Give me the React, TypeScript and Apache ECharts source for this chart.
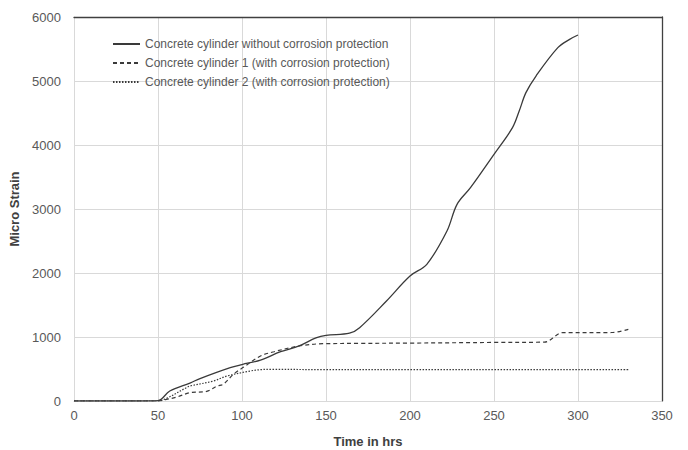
import React, { useEffect, useRef } from "react";
import * as echarts from "echarts";

const seriesNames = [
  "Concrete cylinder without corrosion protection",
  "Concrete cylinder 1 (with corrosion protection)",
  "Concrete cylinder 2 (with corrosion protection)",
];

const noProtection: [number, number][] = [
  [0, 0], [10, 0], [20, 0], [30, 0], [40, 0], [50, 5], [57, 156], [69, 280], [75, 350],
  [93, 521], [100, 570], [111, 640], [123, 770], [134, 860], [144, 985], [150, 1026],
  [164, 1060], [170, 1146], [186, 1563], [200, 1953], [210, 2136], [222, 2656], [228, 3073],
  [236, 3333], [250, 3854], [261, 4271], [265, 4531], [269, 4818], [275, 5078], [288, 5521],
  [295, 5651], [300, 5719],
];

const protected1: [number, number][] = [
  [0, 0], [10, 0], [20, 0], [30, 0], [40, 0], [50, 0], [55, 26], [61, 60], [69, 130],
  [79, 150], [85, 230], [89, 265], [95, 420], [101, 530], [111, 703], [119, 770],
  [134, 859], [148, 895], [170, 900], [200, 905], [250, 915], [280, 920], [291, 1068],
  [320, 1070], [330, 1120],
];

const protected2: [number, number][] = [
  [0, 0], [10, 0], [20, 0], [30, 0], [40, 0], [50, 0], [55, 40], [67, 210], [69, 234],
  [83, 312], [91, 390], [105, 469], [111, 490], [117, 495], [150, 490], [200, 490],
  [250, 490], [300, 490], [330, 490],
];

const xTicks = { min: 0, max: 350, interval: 50 };
const yTicks = { min: 0, max: 6000, interval: 1000 };

const FONT = "Liberation Sans, Arial, sans-serif";

export default function App() {
  const ref = useRef<HTMLDivElement>(null);
  useEffect(() => {
    if (!ref.current) return;
    const chart = echarts.init(ref.current, undefined, { renderer: "svg" });
    const lineColor = "#3a3a3a";
    chart.setOption({
      animation: false,
      backgroundColor: "#ffffff",
      grid: { left: 74, right: 26, top: 17, bottom: 49, show: false, containLabel: false, outerBoundsMode: "none" },
      legend: {
        orient: "vertical",
        left: 107,
        top: 33,
        itemGap: 7,
        itemWidth: 27,
        itemHeight: 12,
        itemStyle: { opacity: 0 },
        textStyle: { color: "#595959", fontSize: 12, fontFamily: FONT },
        data: seriesNames,
      },
      xAxis: [
        {
          type: "value",
          ...xTicks,
          name: "Time in hrs",
          nameLocation: "middle",
          nameGap: 34,
          nameTextStyle: { fontWeight: "bold", fontSize: 13, color: "#404040", fontFamily: FONT },
          axisLine: { show: true, lineStyle: { color: "#d9d9d9" } },
          axisTick: { show: false },
          axisLabel: { color: "#595959", fontSize: 13, margin: 8, fontFamily: FONT },
          splitLine: { show: true, lineStyle: { color: "#d9d9d9" } },
        },
        {
          type: "value",
          ...xTicks,
          position: "top",
          axisLine: { show: true, onZero: false, lineStyle: { color: "#404040", width: 1.3 } },
          axisTick: { show: false },
          axisLabel: { show: false },
          splitLine: { show: false },
        },
      ],
      yAxis: [
        {
          type: "value",
          ...yTicks,
          name: "Micro Strain",
          nameLocation: "middle",
          nameGap: 42,
          nameTextStyle: { fontWeight: "bold", fontSize: 13, color: "#404040", fontFamily: FONT },
          axisLine: { show: true, lineStyle: { color: "#d9d9d9" } },
          axisTick: { show: false },
          axisLabel: { color: "#595959", fontSize: 13, margin: 13, fontFamily: FONT, formatter: (v: number) => String(v) },
          splitLine: { show: true, lineStyle: { color: "#d9d9d9" } },
        },
        {
          type: "value",
          ...yTicks,
          position: "right",
          axisLine: { show: true, onZero: false, lineStyle: { color: "#404040", width: 1.3 } },
          axisTick: { show: false },
          axisLabel: { show: false },
          splitLine: { show: false },
        },
      ],
      series: [
        {
          name: seriesNames[0],
          type: "line",
          data: noProtection,
          smooth: 0.35,
          showSymbol: false,
          symbol: "none",
          itemStyle: { color: lineColor },
          lineStyle: { color: lineColor, width: 1.3, type: "solid" },
        },
        {
          name: seriesNames[1],
          type: "line",
          data: protected1,
          smooth: 0.35,
          showSymbol: false,
          symbol: "none",
          itemStyle: { color: lineColor },
          lineStyle: { color: lineColor, width: 1.2, type: [4, 3] },
        },
        {
          name: seriesNames[2],
          type: "line",
          data: protected2,
          smooth: 0.35,
          showSymbol: false,
          symbol: "none",
          itemStyle: { color: lineColor },
          lineStyle: { color: lineColor, width: 1.2, type: [1.5, 1.5] },
        },
      ],
    });
    return () => chart.dispose();
  }, []);
  return <div ref={ref} style={{ width: 688, height: 450, position: "absolute", left: 0, top: 0 }} />;
}
